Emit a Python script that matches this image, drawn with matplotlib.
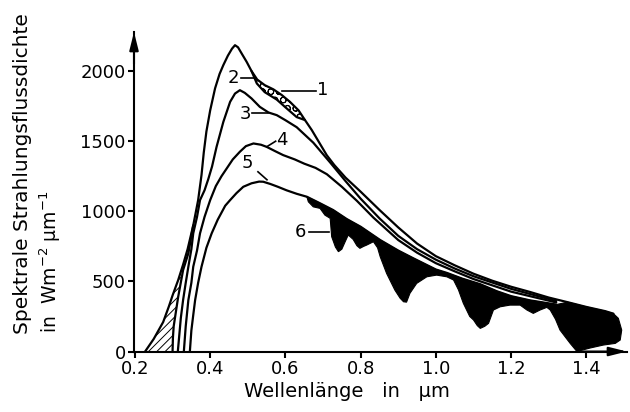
import numpy as np
import matplotlib
matplotlib.use("Agg")
import matplotlib.pyplot as plt

# Wavelength (µm) and spectral irradiance (W m^-2 µm^-1) of the spectra
# 1: extraterrestrial
x1 = [0.227, 0.25, 0.275, 0.29, 0.30, 0.315, 0.328, 0.34, 0.355, 0.368, 0.377, 0.383,
      0.39, 0.40, 0.413, 0.425, 0.435, 0.447, 0.458, 0.466, 0.474, 0.485, 0.497, 0.51,
      0.525, 0.545, 0.568, 0.59, 0.612, 0.635, 0.652, 0.67, 0.69, 0.71, 0.73, 0.76, 0.8,
      0.85, 0.9, 0.95, 1.0, 1.05, 1.1, 1.15, 1.2, 1.25, 1.3, 1.35, 1.4, 1.45, 1.472]
y1 = [0, 90, 210, 320, 400, 510, 620, 730, 900, 1080, 1260, 1420,
      1570, 1720, 1877, 1980, 2043, 2110, 2160, 2185, 2170, 2120, 2066, 2000,
      1940, 1900, 1870, 1830, 1781, 1720, 1651, 1580, 1490, 1400, 1330, 1240, 1140,
      1010, 885, 770, 680, 615, 555, 505, 462, 425, 385, 352, 318, 288, 270]

# 2: after ozone absorption (UV edge and Chappuis band, elsewhere equal to 1)
x2_uv = [0.300, 0.301, 0.303, 0.315, 0.328, 0.342, 0.355]
y2_uv = [0, 100, 180, 391, 581, 700, 900]
x2_ch = [0.51, 0.524, 0.545, 0.577, 0.60, 0.63, 0.652]
y2_ch = [2000, 1912, 1850, 1797, 1742, 1672, 1651]

# 3
x3 = [0.314, 0.318, 0.322, 0.328, 0.335, 0.342, 0.35, 0.355, 0.365, 0.373, 0.385, 0.395,
      0.405, 0.417, 0.435, 0.453, 0.466, 0.479, 0.492, 0.51, 0.532, 0.555, 0.577, 0.60,
      0.63, 0.674, 0.72, 0.76, 0.8, 0.85, 0.9, 0.95, 1.0, 1.05, 1.1, 1.2, 1.32]
y3 = [0, 120, 240, 367, 490, 605, 730, 843, 960, 1080, 1150, 1230,
      1320, 1460, 1638, 1781, 1840, 1864, 1845, 1805, 1745, 1705, 1686, 1650,
      1600, 1490, 1345, 1215, 1090, 950, 825, 730, 655, 592, 537, 447, 360]

# 4
x4 = [0.330, 0.335, 0.342, 0.35, 0.355, 0.365, 0.373, 0.385, 0.40, 0.415, 0.43, 0.444,
      0.46, 0.479, 0.495, 0.515, 0.535, 0.55, 0.572, 0.594, 0.625, 0.65, 0.68, 0.71,
      0.75, 0.79, 0.834, 0.9, 0.95, 1.0, 1.05, 1.1, 1.2, 1.32]
y4 = [0, 180, 367, 490, 605, 720, 843, 960, 1080, 1180, 1250, 1306,
      1370, 1425, 1465, 1484, 1475, 1460, 1430, 1401, 1370, 1340, 1310, 1265,
      1175, 1075, 955, 795, 705, 630, 572, 517, 427, 350]

# 5
x5 = [0.346, 0.350, 0.355, 0.36, 0.368, 0.377, 0.39, 0.404, 0.42, 0.44, 0.453, 0.47,
      0.488, 0.51, 0.53, 0.541, 0.56, 0.58, 0.603, 0.63, 0.657, 0.69, 0.727, 0.763,
      0.8, 0.852, 0.9, 0.94, 1.0, 1.03, 1.07, 1.118, 1.162, 1.2, 1.25, 1.32]
y5 = [0, 150, 260, 367, 490, 605, 740, 843, 940, 1040, 1080, 1130,
      1175, 1200, 1212, 1211, 1195, 1175, 1150, 1125, 1104, 1060, 1009, 945,
      890, 795, 720, 665, 585, 560, 520, 480, 430, 395, 365, 335]

# 6: at ground with water vapour / CO2 absorption bands
x6 = [0.657, 0.661, 0.674, 0.692, 0.705, 0.719, 0.723, 0.733, 0.741, 0.75, 0.76, 0.767,
      0.78, 0.79, 0.798, 0.808, 0.816, 0.834, 0.845, 0.852, 0.869, 0.891, 0.905, 0.914,
      0.922, 0.931, 0.949, 0.976, 1.002, 1.029, 1.047, 1.06, 1.073, 1.09, 1.10, 1.11,
      1.118, 1.13, 1.14, 1.153, 1.171, 1.197, 1.224, 1.242, 1.259, 1.277, 1.295, 1.304,
      1.318, 1.33, 1.345, 1.357, 1.375, 1.41, 1.445, 1.477, 1.49, 1.494, 1.485]
y6 = [1104, 1068, 1032, 1021, 973, 950, 819, 745, 712, 730, 790, 831,
      800, 755, 736, 750, 759, 783, 740, 676, 557, 438, 380, 355,
      352, 415, 486, 533, 545, 533, 510, 440, 344, 250, 225, 185,
      165, 180, 201, 296, 319, 331, 331, 296, 272, 296, 315, 296,
      230, 153, 100, 58, 0, 25, 46, 58, 82, 153, 237]

x_ticks = [0.2, 0.4, 0.6, 0.8, 1.0, 1.2, 1.4]
x_ticklabels = ["0.2", "0.4", "0.6", "0.8", "1.0", "1.2", "1.4"]
y_ticks = [0, 500, 1000, 1500, 2000]

plt.rcParams["font.family"] = ["DejaVu Sans"]
plt.rcParams["hatch.linewidth"] = 0.7

fig = plt.figure(figsize=(6.3, 4.12), dpi=100)
ax = fig.add_axes([0.2127, 0.1468, 0.7825, 0.7755])
ax.set_xlim(0.1975, 1.508)
ax.set_ylim(0, 2279)

x1a = np.array(x1)
y1a = np.array(y1)

# ozone UV absorption (hatched)
m = x1a <= 0.355
ax.fill(np.r_[x1a[m], x2_uv[::-1]], np.r_[y1a[m], y2_uv[::-1]],
        facecolor="white", edgecolor="black", hatch="////", lw=0)

# Chappuis band (circles)
m = (x1a >= 0.51) & (x1a <= 0.652)
ax.fill(np.r_[x1a[m], x2_ch[::-1]], np.r_[y1a[m], y2_ch[::-1]],
        facecolor="white", edgecolor="black", hatch="OO", lw=0)

# absorption bands (black)
x5a, y5a = np.array(x5), np.array(y5)
m5 = x5a >= 0.657
m1 = x1a > 1.32
ax.fill(np.r_[x5a[m5], x1a[m1], x6[::-1]], np.r_[y5a[m5], y1a[m1], y6[::-1]],
        facecolor="black", edgecolor="black", lw=0.8)

lw = 1.6
kw = dict(color="black", lw=lw, solid_joinstyle="round", solid_capstyle="round")
ax.plot(x1, y1, **kw)
ax.plot(x2_uv, y2_uv, **kw)
ax.plot(x2_ch, y2_ch, **kw)
ax.plot(x3, y3, **kw)
ax.plot(x4, y4, **kw)
ax.plot(x5, y5, **kw)

# curve labels with leaders
lab_kw = dict(fontsize=13, color="black", va="center")
ax.text(0.684, 1865, "1", ha="left", **lab_kw)
ax.plot([0.59, 0.68], [1858, 1858], color="black", lw=1.2)
ax.text(0.478, 1950, "2", ha="right", **lab_kw)
ax.plot([0.482, 0.52], [1950, 1950], color="black", lw=1.2)
ax.text(0.508, 1693, "3", ha="right", **lab_kw)
ax.plot([0.512, 0.554], [1700, 1700], color="black", lw=1.2)
ax.text(0.575, 1508, "4", ha="left", **lab_kw)
ax.plot([0.55, 0.574], [1460, 1500], color="black", lw=1.2)
ax.text(0.515, 1342, "5", ha="right", **lab_kw)
ax.plot([0.527, 0.551], [1282, 1225], color="black", lw=1.2)
ax.text(0.656, 851, "6", ha="right", **lab_kw)
ax.plot([0.663, 0.716], [851, 851], color="black", lw=1.2)

# axes styling
for s in ["top", "right"]:
    ax.spines[s].set_visible(False)
for s in ["left", "bottom"]:
    ax.spines[s].set_linewidth(1.5)
ax.set_xticks(x_ticks)
ax.set_xticklabels(x_ticklabels)
ax.set_yticks(y_ticks)
ax.tick_params(direction="out", length=4, width=1.5, labelsize=13, pad=2)

arrow = dict(arrowstyle="-|>,head_length=0.6,head_width=0.15", color="black",
             lw=1.5, shrinkA=0, shrinkB=0, mutation_scale=18)
ax.annotate("", xy=(0, 1), xytext=(0, 0.9), xycoords="axes fraction",
            arrowprops=arrow, annotation_clip=False)
ax.annotate("", xy=(1, 0), xytext=(0.9, 0), xycoords="axes fraction",
            arrowprops=arrow, annotation_clip=False)

fig.text(0.035, 0.578, "Spektrale Strahlungsflussdichte", rotation=90,
         ha="center", va="center", fontsize=14.5)
fig.text(0.079, 0.364, r"in  Wm$^{-2}$ µm$^{-1}$", rotation=90,
         ha="center", va="center", fontsize=13.5)
fig.text(0.551, 0.049, "Wellenlänge   in   µm", ha="center", va="center", fontsize=14)

fig.savefig("out.png", dpi=100)
